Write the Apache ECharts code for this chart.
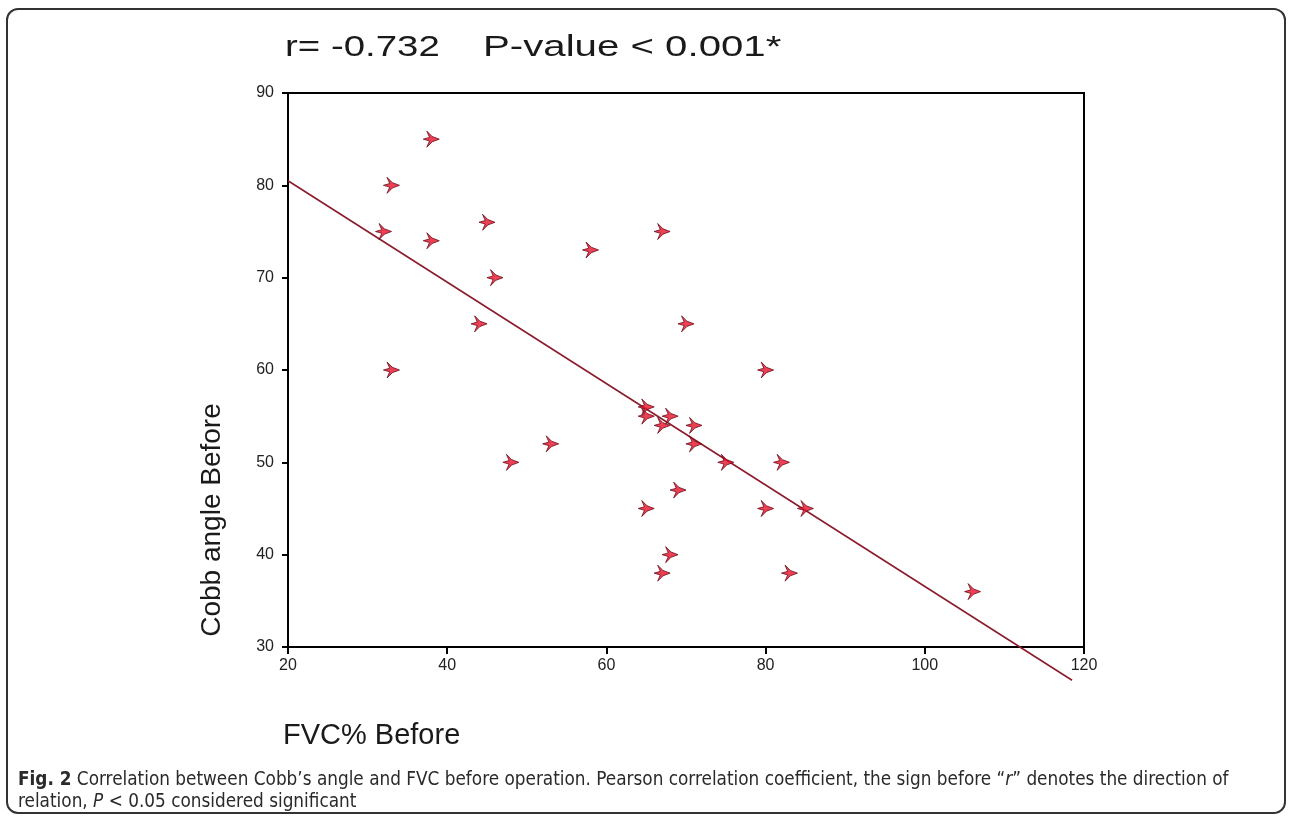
<!DOCTYPE html>
<html>
<head>
<meta charset="utf-8">
<script src="https://cdn.jsdelivr.net/npm/echarts@6/dist/echarts.min.js"></script>
<style>
  html, body { margin: 0; padding: 0; background: #fff; }
  #wrap { position: relative; width: 1292px; height: 820px; }
  #chart { position: absolute; left: 0; top: 0; width: 1292px; height: 820px; }
  #frame {
    position: absolute; left: 6px; top: 8px; width: 1276px; height: 802px;
    border: 2px solid #333; border-radius: 12px; pointer-events: none;
  }
  #caption {
    position: absolute; left: 18px; top: 768px; width: 1260px;
    font-family: 'Liberation Sans Narrow', 'DejaVu Sans Condensed', sans-serif;
    font-size: 18.8px; line-height: 22px; color: #2a2a2a;
  }
  #caption b { font-weight: bold; }
</style>
</head>
<body>
<div id="wrap">
  <div id="chart"></div>
  <div id="frame"></div>
  <div id="caption"><b>Fig. 2</b> Correlation between Cobb’s angle and FVC before operation. Pearson correlation coefficient, the sign before “<i>r</i>” denotes the direction of<br>relation, <i>P</i> &lt; 0.05 considered significant</div>
</div>
<script>
// FVC% before operation
const fvc = [38, 33, 32, 38, 45, 46, 44, 33, 58, 67, 70, 80, 65, 65, 68, 67, 71, 71, 75, 82, 69, 65, 80, 85, 68, 67, 83, 106, 48, 53]
// Cobb angle before operation
const cobb = [85, 80, 75, 74, 76, 70, 65, 60, 73, 75, 65, 60, 56, 55, 55, 54, 54, 52, 50, 50, 47, 45, 45, 45, 40, 38, 38, 36, 50, 52]

// fitted line ends
const fitX = [20, 118.5]
const fitY = [80.5, 26.4]

const xTicks = [20, 40, 60, 80, 100, 120]
const yTicks = [30, 40, 50, 60, 70, 80, 90]

const chart = echarts.init(document.getElementById('chart'))

// feathered-arrow marker
const starPath = 'path://M5,1 L11,7 L19,10 L11,13 L5,19 L8,12 L1,10 L8,8 Z'

const option = {
  animation: false,
  grid: {
    left: 288,
    top: 93,
    right: 208,
    bottom: 173,
    show: true,
    borderColor: '#000',
    borderWidth: 2
  },
  xAxis: {
    type: 'value',
    min: xTicks[0],
    max: xTicks[xTicks.length - 1],
    interval: 20,
    axisLine: { lineStyle: { color: '#000', width: 2 } },
    axisTick: { show: true, inside: false, length: 7, lineStyle: { color: '#000', width: 2 } },
    axisLabel: {
      color: '#222',
      fontSize: 16,
      fontFamily: 'Liberation Sans Narrow, Liberation Sans, sans-serif',
      margin: 11
    },
    splitLine: { show: false }
  },
  yAxis: {
    type: 'value',
    min: yTicks[0],
    max: yTicks[yTicks.length - 1],
    interval: 10,
    axisLine: { show: true, lineStyle: { color: '#000', width: 2 } },
    axisTick: { show: true, inside: false, length: 6, lineStyle: { color: '#000', width: 2 } },
    axisLabel: {
      color: '#222',
      fontSize: 16,
      fontFamily: 'Liberation Sans Narrow, Liberation Sans, sans-serif',
      margin: 14
    },
    splitLine: { show: false }
  },
  graphic: [
    {
      type: 'text',
      x: 285,
      y: 48,
      scaleX: 1.28,
      style: {
        text: 'r= -0.732',
        font: '30px "Liberation Sans", Arial, sans-serif',
        fill: '#1a1a1a',
        textAlign: 'left',
        textVerticalAlign: 'middle'
      }
    },
    {
      type: 'text',
      x: 483,
      y: 48,
      scaleX: 1.34,
      style: {
        text: 'P-value < 0.001*',
        font: '30px "Liberation Sans", Arial, sans-serif',
        fill: '#1a1a1a',
        textAlign: 'left',
        textVerticalAlign: 'middle'
      }
    },
    {
      type: 'text',
      x: 212,
      y: 520,
      rotation: Math.PI / 2,
      style: {
        text: 'Cobb angle Before',
        font: '28px "Liberation Sans", Arial, sans-serif',
        fill: '#1a1a1a',
        textAlign: 'center',
        textVerticalAlign: 'middle'
      }
    },
    {
      type: 'text',
      x: 283,
      y: 736,
      style: {
        text: 'FVC% Before',
        font: '29px "Liberation Sans", Arial, sans-serif',
        fill: '#1a1a1a',
        textAlign: 'left',
        textVerticalAlign: 'middle'
      }
    }
  ],
  series: [
    {
      name: 'fit',
      type: 'line',
      data: fitX.map((x, i) => [x, fitY[i]]),
      showSymbol: false,
      clip: false,
      lineStyle: { color: '#8a1c2c', width: 1.6 },
      z: 2
    },
    {
      name: 'patients',
      type: 'scatter',
      data: fvc.map((x, i) => [x, cobb[i]]),
      symbol: starPath,
      symbolSize: 16,
      itemStyle: {
        color: '#e8102a',
        borderColor: '#6a0c18',
        borderWidth: 1
      },
      z: 3
    }
  ]
}

chart.setOption(option)
</script>
</body>
</html>
